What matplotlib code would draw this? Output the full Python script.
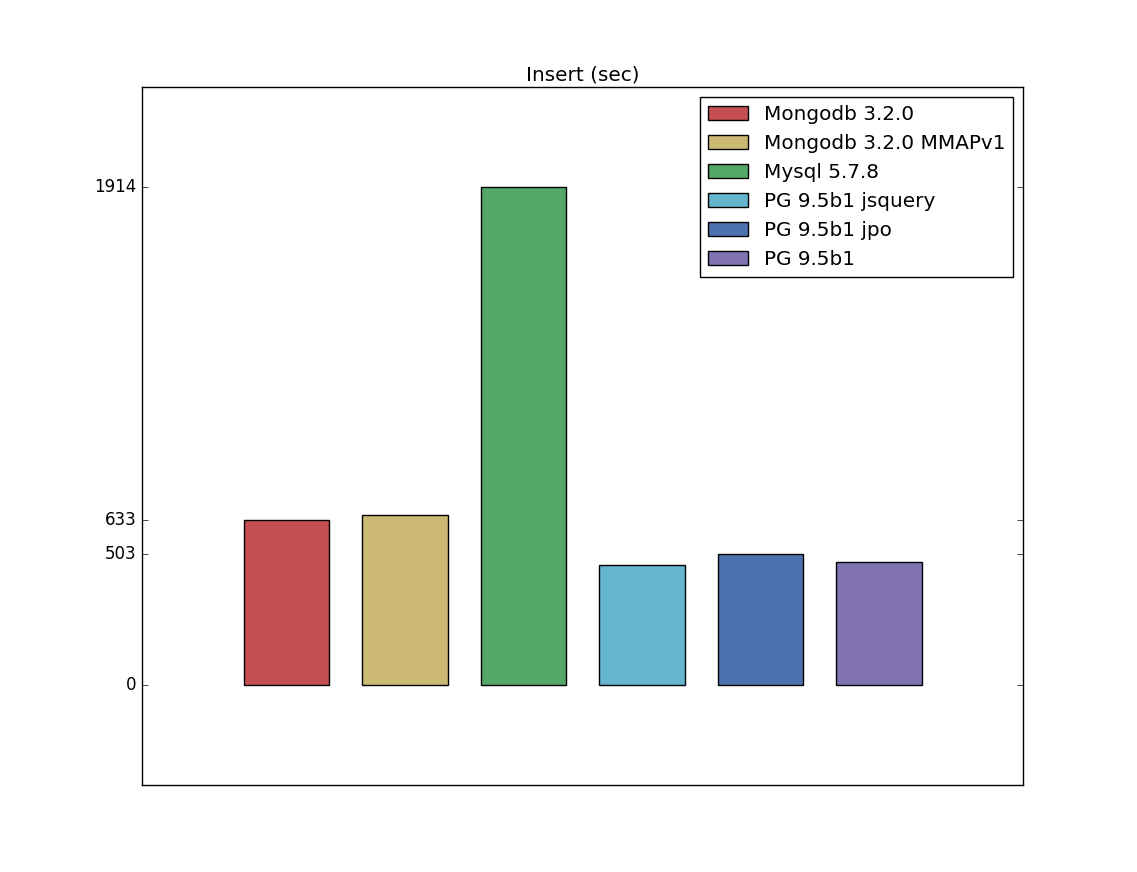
import matplotlib
matplotlib.use("Agg")
import matplotlib.pyplot as plt

# insert timings (sec)
names = ["Mongodb 3.2.0", "Mongodb 3.2.0 MMAPv1", "Mysql 5.7.8",
         "PG 9.5b1 jsquery", "PG 9.5b1 jpo", "PG 9.5b1"]
values = [633, 652, 1914, 463, 503, 474]
colors = ["#C44E52", "#CCB974", "#55A868", "#64B5CD", "#4C72B0", "#8172B2"]
yticks = [0, 503, 633, 1914]

plt.style.use("classic")
plt.rcParams["font.family"] = ["DejaVu Sans"]

fig = plt.figure(figsize=(11.37, 8.72), dpi=100)
ax = fig.add_subplot(111)

for i, (name, val, col) in enumerate(zip(names, values, colors)):
    ax.bar(i, val, width=0.72, color=col, edgecolor="black", linewidth=1.0,
           label=name, align="center")

ax.set_title("Insert (sec)", fontsize=14.4)
ax.set_xlim(-1.218, 6.218)
ax.set_ylim(-0.2 * max(values), 1.2 * max(values))
ax.set_xticks([])
ax.set_yticks(yticks)
ax.set_yticklabels([str(t) for t in yticks])
ax.tick_params(axis="y", labelsize=12)
ax.legend(loc="upper right", fontsize=14.4)

fig.savefig("out.png", dpi=100)
